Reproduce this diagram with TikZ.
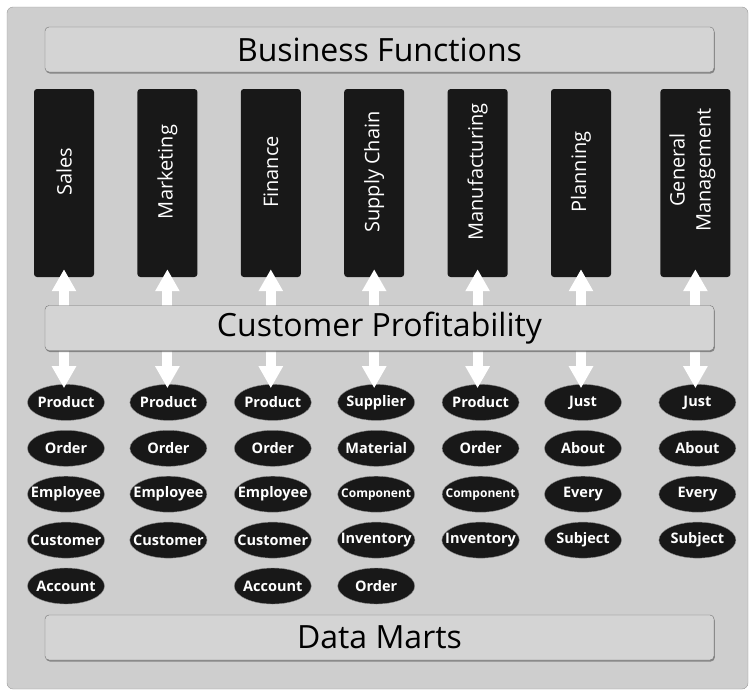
\documentclass[tikz,border=0pt]{standalone}
\usepackage{fontspec}
\setmainfont{Open Sans}
\usetikzlibrary{shadows}
\usetikzlibrary{positioning}
\usetikzlibrary{arrows.meta}
\usetikzlibrary{shapes.geometric}
\definecolor{panelgray}{RGB}{206,206,206}
\definecolor{bandgray}{RGB}{212,212,212}
\definecolor{colblack}{RGB}{24,24,24}

\begin{document}
\begin{tikzpicture}[x=1pt, y=-1pt, node distance=9.5pt and 43pt,
  band/.style={draw=black!55, fill=bandgray, rounded corners=4pt, minimum width=669pt, minimum height=45pt, inner sep=0pt, font=\fontsize{32}{36}\selectfont, drop shadow={shadow xshift=0.8pt, shadow yshift=-1.5pt, fill=black!60, opacity=0.7}},
  fn/.style={fill=colblack, rounded corners=3pt, minimum width=60pt, minimum height=188pt, inner sep=0pt},
  ent/.style={ellipse, draw=black!45, fill=colblack, minimum width=77pt, minimum height=36pt, inner sep=-8pt, text=white, font=\bfseries\fontsize{14.5}{16}\selectfont}]
\tikzstyle{fntext}=[text=white, rotate=90, inner sep=0pt, font=\fontsize{20}{26}\selectfont, align=center]
\tikzstyle{dbl}=[{Triangle[width=23pt,length=22pt]}-{Triangle[width=23pt,length=22pt]}, white, line width=10pt]
\tikzstyle{small}=[font=\bfseries\fontsize{12}{15}\selectfont]

\useasboundingbox (0,0) rectangle (753,691);
\draw [draw=black!40, fill=panelgray, rounded corners=6pt] (7,7) rectangle (748,689);

\node (bf) [band] at (379.5,49.5) {Business Functions};

% functions
\node (sales) [fn] at (64,183) {};
\node (mkt) [fn, right=of sales] {};
\node (fin) [fn, right=of mkt] {};
\node (supply) [fn, right=of fin] {};
\node (manuf) [fn, right=of supply] {};
\node (plan) [fn, right=of manuf] {};
\node (gm) [fn, right=of plan, xshift=6pt, minimum width=70pt] {};

\node (salest) [fntext] at ([yshift=11pt]sales.center) {Sales};
\node (mktt) [fntext] at ([yshift=11pt]mkt.center) {Marketing};
\node (fint) [fntext] at ([yshift=11pt]fin.center) {Finance};
\node (supplyt) [fntext] at ([yshift=11pt]supply.center) {Supply Chain};
\node (manuft) [fntext] at ([yshift=11pt]manuf.center) {Manufacturing};
\node (plant) [fntext] at ([yshift=11pt]plan.center) {Planning};
\node (gmt) [fntext] at ([xshift=-3pt,yshift=13pt]gm.center) {General\\Management};

% data marts
\node (sales1) [ent, below=107pt of sales, xshift=2pt] {Product};
\node (sales2) [ent, below=of sales1] {Order};
\node (sales3) [ent, below=of sales2] {Employee};
\node (sales4) [ent, below=of sales3] {Customer};
\node (sales5) [ent, below=of sales4] {Account};

\node (mkt1) [ent, below=107pt of mkt, xshift=1pt] {Product};
\node (mkt2) [ent, below=of mkt1] {Order};
\node (mkt3) [ent, below=of mkt2] {Employee};
\node (mkt4) [ent, below=of mkt3] {Customer};

\node (fin1) [ent, below=107pt of fin, xshift=2pt] {Product};
\node (fin2) [ent, below=of fin1] {Order};
\node (fin3) [ent, below=of fin2] {Employee};
\node (fin4) [ent, below=of fin3] {Customer};
\node (fin5) [ent, below=of fin4] {Account};

\node (supply1) [ent, below=107pt of supply, xshift=2pt] {Supplier};
\node (supply2) [ent, below=of supply1] {Material};
\node (supply3) [ent, small, below=of supply2] {Component};
\node (supply4) [ent, below=of supply3] {Inventory};
\node (supply5) [ent, below=of supply4] {Order};

\node (manuf1) [ent, below=107pt of manuf, xshift=3pt] {Product};
\node (manuf2) [ent, below=of manuf1] {Order};
\node (manuf3) [ent, small, below=of manuf2] {Component};
\node (manuf4) [ent, below=of manuf3] {Inventory};

\node (plan1) [ent, below=107pt of plan, xshift=2pt] {Just};
\node (plan2) [ent, below=of plan1] {About};
\node (plan3) [ent, below=of plan2] {Every};
\node (plan4) [ent, below=of plan3] {Subject};

\node (gm1) [ent, below=107pt of gm, xshift=2pt] {Just};
\node (gm2) [ent, below=of gm1] {About};
\node (gm3) [ent, below=of gm2] {Every};
\node (gm4) [ent, below=of gm3] {Subject};

% arrows
\draw [dbl] ([yshift=8pt]sales.south) -- ([yshift=-4pt]sales.south |- sales1.north);
\draw [dbl] ([yshift=8pt]mkt.south) -- ([yshift=-4pt]mkt.south |- mkt1.north);
\draw [dbl] ([yshift=8pt]fin.south) -- ([yshift=-4pt]fin.south |- fin1.north);
\draw [dbl] ([yshift=8pt]supply.south) -- ([yshift=-4pt]supply.south |- supply1.north);
\draw [dbl] ([yshift=8pt]manuf.south) -- ([yshift=-4pt]manuf.south |- manuf1.north);
\draw [dbl] ([yshift=8pt]plan.south) -- ([yshift=-4pt]plan.south |- plan1.north);
\draw [dbl] ([yshift=8pt]gm.south) -- ([yshift=-4pt]gm.south |- gm1.north);

\node (cp) [band] at (379.5,328) {Customer Profitability};
\node (dm) [band] at (379.5,637.5) {Data Marts};
\end{tikzpicture}
\end{document}
